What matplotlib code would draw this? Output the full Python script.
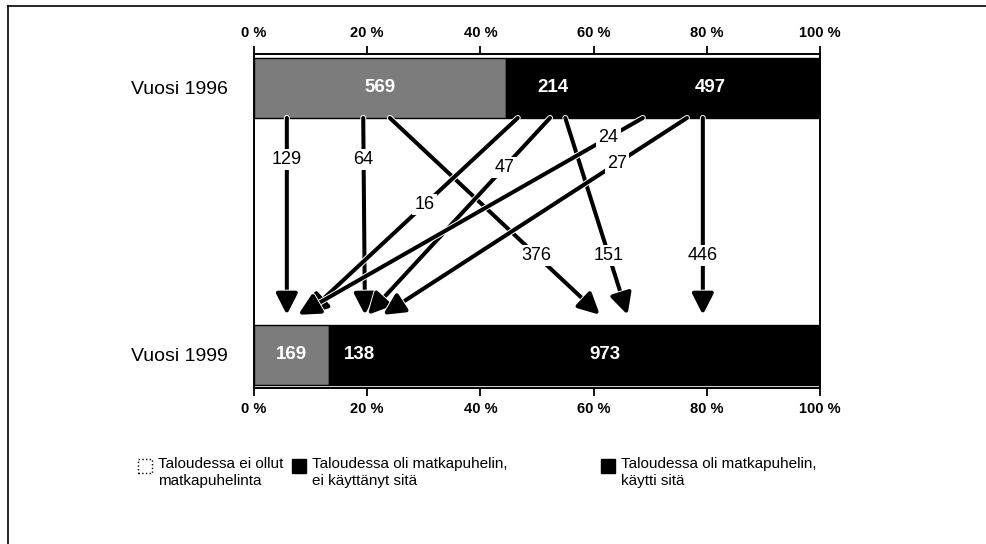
import matplotlib
matplotlib.use("Agg")
import matplotlib.pyplot as plt
from matplotlib.patches import Rectangle, FancyArrowPatch
from matplotlib.lines import Line2D
import matplotlib.patheffects as pe

plt.rcParams['font.family'] = ['Liberation Sans', 'DejaVu Sans']

# ---------------- data ----------------
years = ['Vuosi 1996', 'Vuosi 1999']
categories = ['Taloudessa ei ollut\nmatkapuhelinta',
              'Taloudessa oli matkapuhelin,\nei käyttänyt sitä',
              'Taloudessa oli matkapuhelin,\nkäytti sitä']
counts_1996 = [569, 214, 497]
counts_1999 = [169, 138, 973]
flow_from = [0, 0, 0, 1, 1, 1, 2, 2, 2]
flow_to = [0, 1, 2, 0, 1, 2, 0, 1, 2]
flow_values = [129, 64, 376, 16, 47, 151, 24, 27, 446]
tick_values = [0, 20, 40, 60, 80, 100]
tick_labels = ['0 %', '20 %', '40 %', '60 %', '80 %', '100 %']

# ---------------- style / layout ----------------
bar_colors = ['#7c7c7c', '#000000', '#000000']
legend_colors = ['#ffffff', '#000000', '#000000']
arrow_x_start = [5.8, 19.3, 24.0, 46.6, 52.3, 55.0, 68.7, 76.5, 79.3]
arrow_x_end = [5.8, 19.6, 61.1, 9.2, 20.1, 66.0, 7.8, 22.8, 79.3]
label_t = [0.21, 0.21, 0.70, 0.44, 0.25, 0.70, 0.10, 0.23, 0.70]
bar_h = 0.225
y_tip = 0.15

W, H = 987, 544
fig = plt.figure(figsize=(W / 100, H / 100), dpi=100)

# axes: 0% at x=254 px, 100% at x=820 px; top line at y=54, bottom at y=388
ax = fig.add_axes([254 / W, 1 - 388 / H, 566 / W, (388 - 54) / H])
ax.set_xlim(0, 100)
ax.set_ylim(-0.124, 1.127)

ypos = [1, 0]
for yi, counts in zip(ypos, [counts_1996, counts_1999]):
    tot = sum(counts)
    left = 0
    for c, col in zip(counts, bar_colors):
        w = c / tot * 100
        ax.barh(yi, w, left=left, height=bar_h, color=col,
                edgecolor='black', linewidth=1.0, zorder=2)
        ax.text(left + w / 2, yi, str(c), color='white', fontsize=13.5,
                fontweight='bold', ha='center', va='center', zorder=3)
        left += w

y_start = 1 - bar_h / 2
for xs, xe, v, t in zip(arrow_x_start, arrow_x_end, flow_values, label_t):
    arr = FancyArrowPatch((xs, y_start), (xe, y_tip),
                          arrowstyle='-|>,head_length=0.75,head_width=0.38',
                          mutation_scale=17, color='black', lw=2.9,
                          shrinkA=0, shrinkB=0, zorder=4)
    arr.set_path_effects([pe.Stroke(linewidth=4.3, foreground='white'), pe.Normal()])
    ax.add_patch(arr)
    lx = xs + (xe - xs) * t
    ly = y_start + (y_tip - y_start) * t
    ax.text(lx, ly, str(v), fontsize=13, ha='center', va='center', zorder=6,
            bbox=dict(facecolor='white', edgecolor='none', pad=1.5))

for s in ax.spines.values():
    s.set_linewidth(1.4)
ax.set_xticks(tick_values)
ax.set_xticklabels(tick_labels)
ax.tick_params(axis='x', which='both', top=True, bottom=True, labeltop=True,
               labelbottom=True, direction='out', length=6, width=1.3, pad=4,
               labelsize=10.5)
for lab in ax.get_xticklabels():
    lab.set_fontweight('bold')
ax.set_yticks(ypos)
ax.set_yticklabels(years, fontsize=14)
ax.tick_params(axis='y', length=0, pad=19)

# legend (manual)
leg_x = [138, 292, 601]
for x0, lab, col in zip(leg_x, categories, legend_colors):
    r = Rectangle((x0 / W, 1 - 473 / H), 14 / W, 14 / H, transform=fig.transFigure,
                  facecolor=col, edgecolor='black', linewidth=1.0,
                  linestyle=':' if col == '#ffffff' else '-')
    fig.patches.append(r)
    fig.text((x0 + 20) / W, 1 - 457 / H, lab, fontsize=11, va='top', ha='left',
             linespacing=1.25)

# page frame (top and left lines)
fig.add_artist(Line2D([8 / W, 8 / W], [0, 1 - 6 / H], transform=fig.transFigure,
                      color='black', lw=1.2))
fig.add_artist(Line2D([8 / W, 1], [1 - 6 / H, 1 - 6 / H], transform=fig.transFigure,
                      color='black', lw=1.2))

fig.savefig('out.png', dpi=100)
